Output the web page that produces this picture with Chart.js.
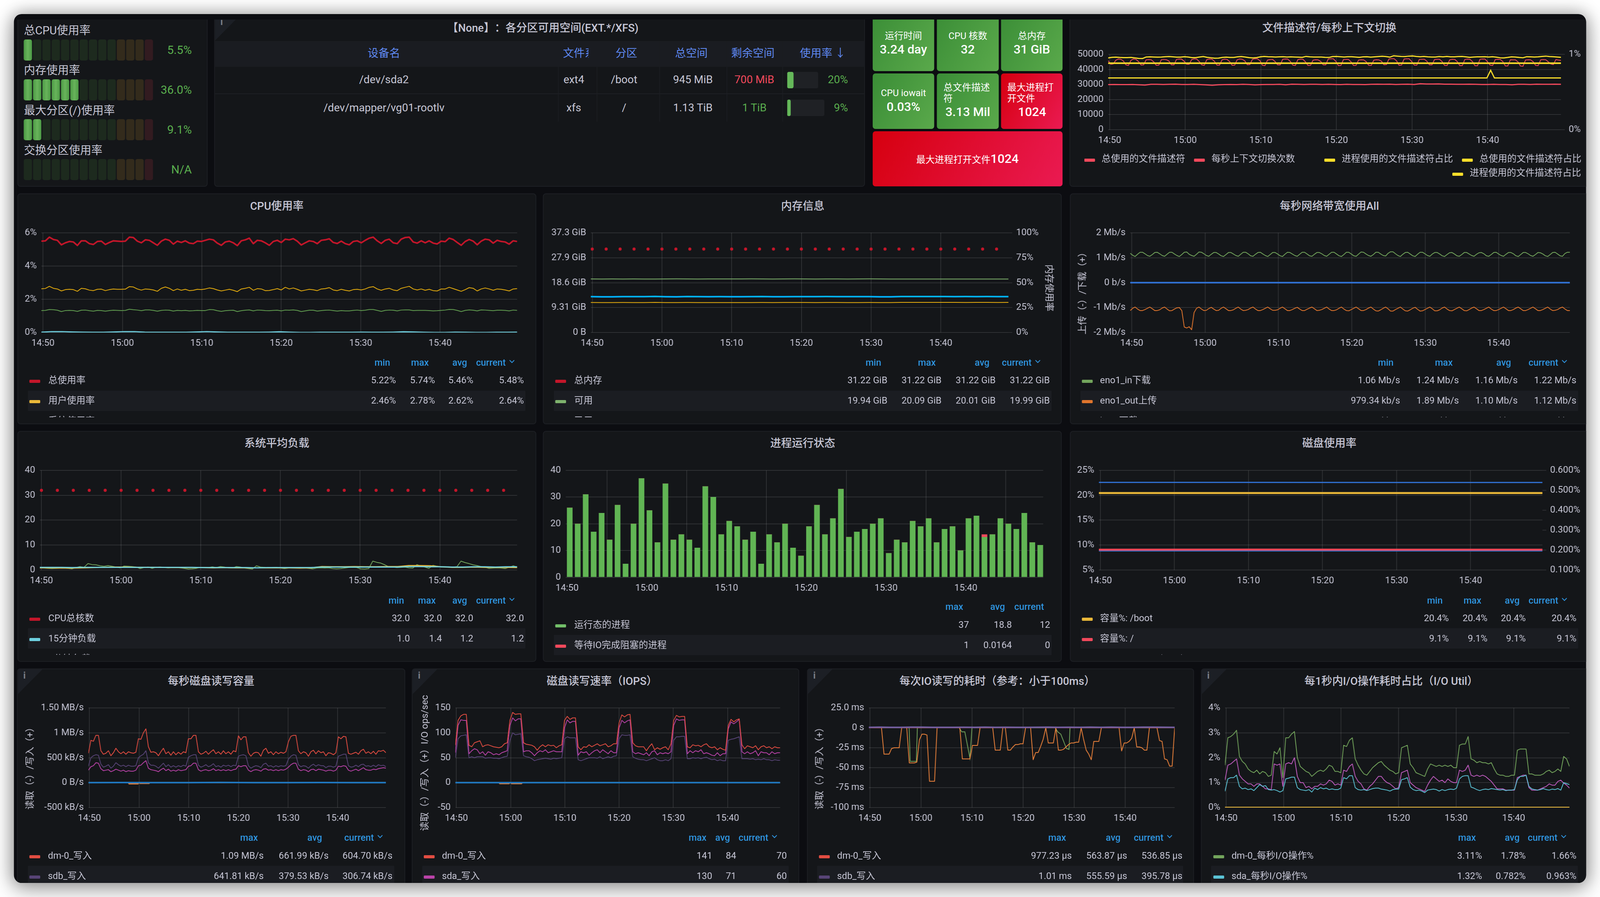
<!DOCTYPE html>
<html><head><meta charset="utf-8">
<script src="https://cdn.jsdelivr.net/npm/chart.js@4"></script>
<style>
html,body{margin:0;padding:0;background:#fff;overflow:hidden;font-family:Roboto,"Noto Sans CJK SC",sans-serif;text-spacing-trim:space-all}
#root{position:absolute;left:0;top:0;width:4138px;height:2296px;transform-origin:0 0;background:#fff;overflow:hidden}
#dash{position:absolute;left:36px;top:36px;width:4066px;height:2224px;background:#0c0d11;border-radius:20px;overflow:hidden;box-shadow:0 0 42px 4px rgba(0,0,0,.33),0 22px 60px rgba(0,0,0,.22)}
#page{position:absolute;left:-36px;top:-36px;width:4138px;height:2296px;clip-path:inset(50px 0 0 0)}
.panel{position:absolute;background:#141619;border:2px solid #1d1f24;border-radius:8px;box-sizing:border-box}
.t{position:absolute;white-space:nowrap;line-height:1;color:#c7c7d6}
canvas{position:absolute}
.tile{position:absolute;border-radius:7px}
.box{position:absolute;overflow:hidden}
</style></head><body><div id="root"><div id="dash"><div id="page"></div></div></div>
<script>
document.getElementById("root").style.transform=`scaleX(${Math.min(1,innerWidth/4138)})`;
/* ---------- shared axis values ---------- */
const xTickValues=[0,10,20,30,40,50];
const xTickLabels=["14:50","15:00","15:10","15:20","15:30","15:40"];
const xMin=-0.2,xMax=59.7;

/* ---------- gauges ---------- */
const gaugeNames=["总CPU使用率","内存使用率","最大分区(/)使用率","交换分区使用率"];
const gaugeValues=[5.5,36.0,9.1,null];
const gaugeTexts=["5.5%","36.0%","9.1%","N/A"];

/* ---------- table ---------- */
const tableHeaders=["设备名","文件系统","分区","总空间","剩余空间","使用率"];
const tableDevices=["/dev/sda2","/dev/mapper/vg01-rootlv"];
const tableFs=["ext4","xfs"];
const tableParts=["/boot","/"];
const tableTotal=["945 MiB","1.13 TiB"];
const tableFree=["700 MiB","1 TiB"];
const tableUsage=[20,9];

/* ---------- file descriptors / context switches (left axis in thousands) ---------- */
const fdYTicks=[0,10,20,30,40,50];
const fdYLabels=["0","10000","20000","30000","40000","50000"];
const fdWiggle=[47.6,48.0,48.1,47.9,47.8,47.8,47.9,47.6,47.3,47.2,48.2,48.3,48.2,48.1,48.2,48.4,48.5,48.3,48.1,48.1,
48.4,48.2,47.8,47.8,48.2,48.5,48.0,47.7,47.4,47.5,47.9,48.1,47.9,47.9,48.3,48.5,48.2,47.8,47.6,47.8,
48.3,48.6,48.4,48.3,48.2,48.3,48.4,48.2,48.3,48.2,48.1,48.0,48.6,48.3,48.2,48.2,48.2,48.0,47.9,48.5,
48.6,48.4,48.2,48.4,48.4,48.2,48.0,48.3,48.4,48.1,48.3,48.5,48.7,48.5,48.1,49.0,48.8,48.6,48.5,48.8,
48.9,48.6,48.4,48.6,48.3,48.2,48.2,48.5,48.3,48.6,48.3,48.3,48.5,48.6,48.3,48.0,48.2,48.3,48.3,48.4,
48.2,48.4,48.1,47.7,47.6,47.9,48.3,48.2,47.9,47.7,48.4,48.3,48.2,48.3,48.6,48.8,48.5,48.4,48.2,48.0];
const fdTotalUsed=[29.9,30.0,29.9,29.9,30.0,29.8,29.6,30.1,30.1,30.0,30.1,30.2,30.0,30.0,30.1,29.9,29.7,29.5,29.8,29.9,
30.0,29.9,30.1,30.0,29.7,29.9,30.0,30.0,30.1,29.8,30.2,30.1,30.0,30.1,30.1,30.0,30.1,30.0,29.9,30.1,
30.0,30.0,29.9,30.1,30.2,30.1,30.2,30.0,30.1,30.2,30.0,30.5,30.3,30.3,30.4,30.2,30.2,30.1,30.1,30.2,
30.1,30.0,30.0,30.1,30.0,30.0,29.8,30.1,30.1,30.0,30.2,30.1,30.1,30.2,30.1];
const ctxSwitches=[45.8,43.4,43.6,46.0,46.9,46.7, 45.6,43.0,42.6,46.0,46.9,46.6, 45.2,42.9,43.0,46.3,46.5,46.4, 45.0,42.7,42.8,46.4,46.6,46.4, 45.6,43.0,43.0,46.6,46.9,46.8, 45.5,43.4,43.4,46.5,47.0,46.8,
45.2,43.0,42.7,46.5,46.9,46.8, 45.4,42.8,42.8,46.3,46.8,46.6, 45.2,42.7,42.8,46.4,46.9,46.7, 45.7,43.1,43.2,46.6,47.1,47.0, 45.8,42.7,42.5,46.2,46.5,46.6, 45.2,43.0,43.0,46.7,46.9,46.8,
45.3,42.8,42.6,46.5,46.8,46.7, 45.0,42.6,42.7,46.1,46.4,46.3, 45.3,43.0,43.0,46.9,47.0,47.0, 45.4,42.5,42.6,46.5,46.6,46.6, 45.0,42.6,42.7,46.2,46.4,46.3, 45.1,42.7,42.6,46.1,46.4,46.3,
45.5,43.1,43.2,46.9,47.1,47.1, 45.7,42.7,42.9,46.9,47.0,47.0, 45.2,42.8,42.8,46.6,46.7,46.7, 45.4,43.0,43.0,46.5,46.7,46.7, 45.2,42.6,42.6,46.3,46.7,46.6, 45.2,42.5,42.5,46.6,46.8,46.7,
45.2,42.4,42.4,46.7,46.9,46.8, 45.0,42.8,42.6,46.5,46.7,46.6, 45.2,42.3,42.3,46.4,46.3,46.3, 45.0,42.2,42.1,46.2,46.4,46.3, 45.1,42.6,42.5,46.4,46.5,46.4, 45.0,43.6,43.2,46.5,46.2,46.0];
const fdPct1=[0.882,0.882,0.882,0.882];
const fdPct2Min=[-0.2,49.9,50.4,50.9,59.7];
const fdPct2=[0.686,0.686,0.788,0.686,0.686];

/* ---------- CPU ---------- */
const cpuTotal=[5.50,5.52,5.74,5.60,5.55,5.28,5.40,5.48,5.45,5.24,5.52,5.52,5.35,5.30,5.48,5.50,5.30,5.42,5.52,5.50,
5.48,5.50,5.74,5.72,5.50,5.40,5.58,5.55,5.40,5.25,5.50,5.62,5.55,5.32,5.50,5.42,5.52,5.38,5.35,5.50,
5.48,5.55,5.62,5.58,5.38,5.25,5.45,5.50,5.40,5.23,5.52,5.58,5.68,5.35,5.55,5.52,5.40,5.25,5.48,5.55,
5.42,5.62,5.58,5.65,5.50,5.27,5.40,5.52,5.48,5.35,5.55,5.58,5.64,5.42,5.36,5.50,5.35,5.28,5.48,5.52,
5.40,5.55,5.68,5.74,5.52,5.36,5.55,5.62,5.40,5.35,5.62,5.72,5.74,5.45,5.38,5.52,5.40,5.52,5.38,5.33,
5.50,5.47,5.68,5.60,5.42,5.25,5.48,5.60,5.50,5.28,5.50,5.62,5.58,5.38,5.55,5.48,5.45,5.32,5.52,5.48];
const cpuUser=[2.63,2.65,2.78,2.66,2.62,2.50,2.58,2.60,2.58,2.48,2.66,2.63,2.55,2.52,2.60,2.61,2.52,2.58,2.62,2.60,
2.60,2.61,2.76,2.74,2.62,2.55,2.62,2.60,2.56,2.48,2.66,2.74,2.66,2.52,2.62,2.54,2.60,2.52,2.54,2.60,
2.58,2.62,2.68,2.64,2.56,2.50,2.55,2.60,2.54,2.46,2.62,2.66,2.72,2.54,2.64,2.62,2.52,2.53,2.58,2.64,
2.56,2.72,2.62,2.68,2.60,2.50,2.55,2.60,2.57,2.52,2.62,2.64,2.70,2.56,2.52,2.60,2.54,2.50,2.58,2.60,
2.56,2.62,2.72,2.76,2.62,2.54,2.62,2.66,2.56,2.52,2.66,2.72,2.78,2.62,2.56,2.62,2.54,2.60,2.52,2.50,
2.62,2.62,2.72,2.64,2.56,2.48,2.58,2.70,2.66,2.50,2.62,2.68,2.62,2.54,2.62,2.60,2.56,2.50,2.62,2.64];
const cpuSys=[1.32,1.33,1.38,1.37,1.34,1.26,1.32,1.33,1.32,1.27,1.34,1.35,1.31,1.28,1.33,1.32,1.28,1.32,1.34,1.33,
1.32,1.33,1.40,1.37,1.35,1.31,1.36,1.36,1.33,1.28,1.33,1.35,1.34,1.29,1.33,1.31,1.33,1.30,1.31,1.33,
1.32,1.32,1.38,1.37,1.31,1.27,1.31,1.33,1.34,1.26,1.31,1.34,1.36,1.30,1.35,1.34,1.32,1.31,1.33,1.34,
1.30,1.35,1.34,1.36,1.33,1.26,1.30,1.34,1.34,1.29,1.32,1.34,1.35,1.32,1.29,1.32,1.30,1.30,1.33,1.35,
1.32,1.34,1.38,1.38,1.33,1.27,1.33,1.35,1.34,1.30,1.35,1.36,1.36,1.32,1.33,1.33,1.33,1.32,1.30,1.31,
1.33,1.35,1.39,1.38,1.33,1.26,1.33,1.36,1.34,1.30,1.36,1.35,1.33,1.31,1.34,1.34,1.33,1.30,1.35,1.33];
const cpuIowait=[0.02,0.05,0.05,0.03,0.02,0.01,0.01,0.03,0.05,0.05,0.02,0.01,0.01,0.01,0.01,0.03,0.05,0.03,0.01,0.01,0.01,0.01,0.02,0.04,0.02,0.00,0.00,0.01,0.01,0.01,0.01,0.02,0.01,0.01,0.02,0.04,0.03,0.01,0.00,0.00,0.02,0.01,0.00,0.00,0.01,0.01,0.02];

/* ---------- memory ---------- */
const memYTicks=[0,9.31,18.6,27.9,37.3];
const memYLabels=["0 B","9.31 GiB","18.6 GiB","27.9 GiB","37.3 GiB"];
const memPctTicks=[0,25,50,75,100];
const memPctLabels=["0%","25%","50%","75%","100%"];
const memTotal=[31.22,31.22,31.22,31.22,31.22,31.22,31.22,31.22,31.22,31.22,31.22,31.22,31.22,31.22,31.22,31.22,31.22,31.22,31.22,31.22,31.22,31.22,31.22,31.22,31.22,31.22,31.22,31.22,31.22,31.22];
const memAvail=[20.03,20.02,20.03,20.02,20.04,20.02,19.99,20.03,20.07,20.04,20.00,20.03,20.04,20.04,20.05,20.07,20.03,20.02,20.05,20.06,20.03,20.01,20.04,20.04,20.02,20.05,20.07,20.05,20.02,20.00,20.02,20.00,20.01,19.99,20.00,20.01,20.02,19.99,20.00,19.99];
const memUsedPct=[36.0,35.8,35.8,36.0,36.0,36.0,36.2,35.9,35.8,36.1,36.0,35.9,36.0,35.9,35.9,36.0,36.1,35.9,35.9,36.0,36.0,36.0,36.1,36.0,36.0,36.0,36.0,35.8,35.8,36.1,36.1,36.1,36.1,36.1,36.0,36.1,36.0,36.1,36.0,36.0];
const memUsed=[11.24,11.20,11.20,11.22,11.20,11.20,11.26,11.18,11.20,11.24,11.20,11.18,11.18,11.20,11.18,11.20,11.24,11.20,11.21,11.22,11.24,11.20,11.22,11.22,11.20,11.20,11.24,11.20,11.18,11.27,11.26,11.25,11.26,11.25,11.26,11.24,11.26,11.28,11.24,11.26];

/* ---------- network ---------- */
const netYTicks=[-2,-1,0,1,2];
const netYLabels=["-2 Mb/s","-1 Mb/s","0 b/s","1 Mb/s","2 Mb/s"];
const netIn=[1.18,1.10,1.05,1.14,1.22,1.22, 1.16,1.09,1.06,1.13,1.21,1.22, 1.16,1.09,1.06,1.14,1.22,1.22, 1.15,1.09,1.05,1.13,1.22,1.23, 1.14,1.09,1.06,1.14,1.23,1.22,
1.16,1.09,1.06,1.14,1.21,1.21, 1.15,1.08,1.05,1.13,1.21,1.21, 1.15,1.09,1.06,1.14,1.22,1.22, 1.16,1.08,1.06,1.14,1.21,1.22, 1.15,1.09,1.05,1.13,1.21,1.21,
1.15,1.08,1.05,1.14,1.22,1.21, 1.15,1.09,1.06,1.14,1.22,1.22, 1.15,1.08,1.06,1.14,1.21,1.21, 1.16,1.09,1.06,1.14,1.22,1.22, 1.15,1.08,1.05,1.13,1.22,1.22,
1.15,1.08,1.06,1.15,1.23,1.22, 1.15,1.09,1.06,1.13,1.22,1.22, 1.15,1.09,1.07,1.18,1.24,1.24, 1.16,1.09,1.05,1.14,1.21,1.22, 1.15,1.08,1.05,1.14,1.22,1.22,
1.16,1.09,1.06,1.15,1.21,1.21, 1.15,1.08,1.05,1.13,1.20,1.21, 1.15,1.08,1.06,1.13,1.21,1.21, 1.15,1.09,1.06,1.14,1.20,1.21, 1.16,1.08,1.06,1.13,1.21,1.22,
1.15,1.09,1.06,1.14,1.21,1.21, 1.16,1.08,1.05,1.13,1.21,1.21, 1.16,1.09,1.06,1.13,1.21,1.20, 1.15,1.08,1.05,1.13,1.21,1.22, 1.15,1.08,1.06,1.17,1.22,1.22];
const netOut=[-1.12,-1.03,-0.98,-1.06,-1.12,-1.12, -1.08,-1.03,-0.98,-1.05,-1.12,-1.12, -1.09,-1.02,-0.98,-1.06,-1.13,-1.12, -1.06,-1.01,-1.00,-1.12,-1.78,-1.82, -1.77,-1.89,-1.2,-1.03,-0.98,-1.06,
-1.12,-1.11,-1.04,-0.99,-1.06,-1.12, -1.11,-1.03,-0.98,-1.05,-1.12,-1.12, -1.09,-1.03,-0.98,-1.06,-1.12,-1.11, -1.08,-1.02,-0.98,-1.06,-1.12,-1.12, -1.08,-1.03,-0.98,-1.05,-1.11,-1.11,
-1.09,-1.03,-0.98,-1.05,-1.12,-1.12, -1.08,-1.03,-0.99,-1.06,-1.12,-1.12, -1.07,-1.02,-0.98,-1.05,-1.12,-1.11, -1.08,-1.03,-0.98,-1.06,-1.12,-1.12, -1.09,-1.03,-0.98,-1.06,-1.12,-1.13,
-1.08,-1.03,-0.98,-1.05,-1.12,-1.12, -1.08,-1.02,-0.98,-1.06,-1.13,-1.14, -1.09,-1.03,-0.98,-1.05,-1.14,-1.14, -1.08,-1.03,-0.98,-1.06,-1.13,-1.14, -1.09,-1.03,-0.99,-1.07,-1.14,-1.13,
-1.08,-1.03,-0.98,-1.05,-1.13,-1.13, -1.09,-1.02,-0.98,-1.06,-1.12,-1.13, -1.08,-1.03,-0.98,-1.05,-1.12,-1.13, -1.08,-1.02,-0.98,-1.05,-1.12,-1.12, -1.08,-1.03,-0.98,-1.06,-1.12,-1.12,
-1.08,-1.03,-0.98,-1.05,-1.12,-1.12, -1.08,-1.02,-0.98,-1.05,-1.12,-1.12, -1.08,-1.03,-0.98,-1.05,-1.12,-1.12, -1.08,-1.03,-0.98,-1.06,-1.12,-1.11, -1.08,-1.02,-0.98,-1.06,-1.12,-1.12];
const netOther=[0,0,0];

/* ---------- load ---------- */
const loadYTicks=[0,10,20,30,40];
const loadCores=[32,32,32,32,32,32,32,32,32,32,32,32,32,32,32,32,32,32,32,32,32,32,32,32,32,32,32,32,32,32];
const load1=[0.9,0.7,0.6,0.5,0.6,0.7,0.8,0.6,0.4,0.9,1.3,1.0,2.5,2.1,2.0,1.6,1.4,1.7,1.4,1.1,
0.8,1.5,1.4,1.3,1.1,0.5,0.9,1.1,0.6,1.0,1.1,0.9,0.8,0.9,1.0,0.8,0.6,0.3,0.4,0.6,
1.0,1.0,0.9,1.2,0.9,1.3,1.1,0.8,0.7,1.3,1.1,0.7,0.5,0.3,1.6,1.1,1.0,0.7,0.9,1.0,
0.7,0.5,0.7,0.7,0.8,0.9,0.8,0.6,0.4,0.7,0.8,0.7,0.8,0.5,0.4,0.5,0.7,0.9,1.0,0.9,
0.4,0.3,0.5,3.5,3.0,2.7,2.0,1.2,1.1,0.9,1.0,1.1,0.8,0.7,2.1,1.5,1.1,0.6,1.8,1.4,
1.1,1.2,1.2,1.1,1.3,3.5,2.9,2.5,2.0,1.7,1.3,1.0,0.6,0.7,0.8,0.7,0.5,1.0,1.6,1.1];
const load5=[0.8,0.8,0.7,0.7,0.8,0.9,1.0,1.1,1.1,1.0,1.0,1.0,0.9,0.9,0.9,0.9,0.8,0.9,0.8,0.8,0.8,0.8,0.8,0.8,0.7,0.8,1.3,1.2,1.2,1.3,1.2,1.2,1.3,1.3,1.7,1.7,1.6,1.2,1.0,1.0,1.1,1.0,1.0,1.0,0.9];
const load15=[1.0,1.0,1.0,0.9,1.0,1.0,1.0,1.0,1.0,1.0,1.0,1.0,1.0,1.0,1.0,0.9,0.9,0.9,0.9,0.9,0.8,0.9,0.9,0.9,0.9,0.9,1.1,1.1,1.1,1.1,1.1,1.1,1.1,1.1,1.3,1.3,1.2,1.2,1.1,1.1,1.2,1.2,1.1,1.2,1.2];

/* ---------- processes ---------- */
const procRunning=[26,20,31,17,24,14,27,5,20,37,25,13,35,14,16,14,11,34,30,16,21,19,14,17,5,16,13,20,11,8,19,27,16,22,33,15,17,18,20,22,9,14,13,21,19,22,13,18,19,10,22,23,15,16,22,20,18,24,13,12];
const procBlocked=[0,0,0,0,0,0,0,0,0,0,0,0,0,0,0,0,0,0,0,0,0,0,0,0,0,0,0,0,0,0,0,0,0,0,0,0,0,0,0,0,0,0,0,0,0,0,0,0,0,0,0,0,1,0,0,0,0,0,0,0];

/* ---------- disk usage ---------- */
const diskYTicks=[5,10,15,20,25];
const diskYLabels=["5%","10%","15%","20%","25%"];
const diskY2Ticks=[0.1,0.2,0.3,0.4,0.5,0.6];
const diskY2Labels=["0.100%","0.200%","0.300%","0.400%","0.500%","0.600%"];
const diskBoot=[20.44,20.44,20.44,20.44];
const diskRoot=[9.05,9.06,9.05,9.05];
const inodeBoot=[0.5395,0.5395,0.5393,0.5393];
const inodeRoot=[0.1955,0.1955,0.1955,0.1955];

/* ---------- disk throughput (kB/s) ---------- */
const ioRateYTicks=[-500,0,500,1000,1500];
const ioRateYLabels=["-500 kB/s","0 B/s","500 kB/s","1 MB/s","1.50 MB/s"];
const rateDm0=[590,850,830,950,950,640,570,590,640,540,600,690,620,580,620,570,620,600,590,610,
880,870,1000,1080,720,610,620,600,540,620,690,580,620,550,620,560,610,570,620,600,
880,880,950,950,620,570,590,630,570,620,660,580,620,570,640,580,620,570,640,620,
940,860,920,920,600,530,590,610,600,530,650,690,590,620,560,620,580,610,590,620,
820,930,950,950,640,580,620,600,530,620,650,580,640,600,620,540,600,590,560,600,
920,880,930,920,590,570,590,610,570,640,670,590,620,580,630,570,640,630,650,600];
const rateSdb=[330,500,540,560,550,370,310,330,360,290,330,400,360,330,350,320,350,330,330,340,
500,540,570,640,400,350,350,330,290,340,390,320,360,310,340,310,340,320,350,330,
510,540,560,560,350,310,330,360,320,340,380,320,340,310,350,330,350,320,350,340,
530,550,560,540,340,290,320,340,330,300,370,390,330,340,310,340,320,340,330,340,
470,530,560,550,360,320,340,330,290,340,370,330,360,340,340,300,330,330,310,330,
530,550,570,570,340,310,320,350,320,360,370,330,340,320,350,320,360,340,350,320];
const rateSda=[250,320,340,400,390,280,240,250,260,220,240,270,250,230,250,220,240,230,230,250,
340,350,400,440,290,260,250,240,220,260,290,240,270,230,250,230,260,240,250,260,
330,340,390,390,260,230,250,260,240,250,280,240,260,240,260,240,260,240,260,270,
340,320,340,340,250,220,250,260,250,230,270,280,250,260,240,260,240,260,250,270,
310,360,390,390,270,240,260,250,220,260,270,240,270,260,250,230,250,250,230,250,
330,320,340,330,250,230,250,270,240,270,300,260,250,250,270,260,280,290,300,290];
const rateReadMin=[-0.2,7.8,8.0,9.8,10.0,10.2,12.0,12.2,59.7];
const rateRead=[0,0,-24,-24,0,-16,-16,0,0];
const rateZero=[0,2,0,0,3,0,0,2,0,0];

/* ---------- IOPS ---------- */
const iopsYTicks=[-50,0,50,100,150];
const iopsYLabels=["-50","0","50","100","150"];
const iopsDm0=[75,125,134,137,137,75,72,80,82,84,72,75,76,74,72,71,70,72,78,80,
125,141,137,138,138,80,77,76,75,72,65,72,76,72,76,74,75,70,74,76,
125,133,127,130,130,72,66,72,71,76,72,75,78,74,76,78,72,74,78,78,
120,136,132,136,137,80,74,72,72,72,64,72,78,66,70,67,70,72,66,78,
125,135,132,133,133,72,70,76,74,75,72,76,78,72,70,72,66,70,67,65,
115,127,122,126,128,76,68,74,72,70,74,66,72,74,70,72,68,72,70,70];
const iopsSda=[60,115,126,125,125,58,64,68,66,58,62,55,62,60,56,58,56,60,62,64,
115,130,124,128,128,62,64,64,60,54,60,64,62,66,60,62,64,62,62,62,
110,126,120,123,123,55,62,60,62,55,60,64,66,60,66,62,58,64,60,60,
110,125,120,124,126,62,58,60,58,56,60,54,62,64,56,60,58,60,58,62,
115,128,125,126,126,58,64,60,64,62,66,58,60,58,55,54,60,54,58,58,
108,122,118,122,127,62,58,62,58,60,64,54,62,60,60,56,62,58,60,60];
const iopsSdb=[50,88,94,95,96,50,52,50,52,52,52,49,50,50,49,49,48,50,52,53,
85,100,96,97,98,54,52,51,48,44,46,47,48,49,48,47,49,48,49,50,
88,92,90,90,90,46,44,46,48,50,50,50,49,52,48,50,52,50,53,54,
88,96,95,95,96,52,49,47,46,46,44,46,48,50,46,44,44,46,44,48,
85,92,92,93,93,48,48,50,49,50,48,50,51,48,46,47,44,46,44,44,
85,87,88,90,92,48,48,48,47,48,46,47,46,48,46,46,44,46,45,45];
const iopsReadMin=[-0.2,7.8,8.0,9.7,9.9,10.2,12.0,12.2,59.7];
const iopsRead=[0,0,-2,-2,0,-2,-2,0,0];
const iopsZero=[0,0,0];

/* ---------- IO latency (ms) ---------- */
const latYTicks=[-100,-75,-50,-25,0,25];
const latYLabels=["-100 ms","-75 ms","-50 ms","-25 ms","0 s","25.0 ms"];
const latRead=[0,0,0,0,0,0,-33,-33,-33,-26,-25,-25,-25,0,0,0,-44,-44,-44,-43,-15,-8,-8,-9,-67,-67,-67,0,0,0,0,0,0,0,0,0,0,-39,-39,-39,-39,-22,-22,-22,0,0,0,0,0,0,-28,-28,-28,0,0,-28,-28,-24,-21,-21,-20,-20,0,0,0,-40,-31,-31,-23,-14,0,-19,-19,-19,0,-28,-28,-27,-24,-21,-19,-19,-18,-18,0,-15,-28,-33,-40,-17,-17,-17,0,0,0,0,0,0,0,0,-29,-19,-19,-17,-13,0,-24,-24,-25,-28,-28,0,0,0,0,-16,-17,-39,-40,-48,-48,0];
const latRead2Min=[-0.2,7.7,7.9,9.1,9.3,17.5,18.0,18.6,19.6,20.0,36.3,36.8,37.4,38.5,39.0,39.2,59.7];
const latRead2=[0,0,-42,-42,0,0,-5,-5,-38,0,0,-5,-8,-26,-27,0,0];
const latWrite=[0.6,0.9,0.6,0.6,0.8,0.9,0.6,0.6,0.6,0.7,0.6,0.8,0.6,0.7,0.6,0.6,0.7,0.8,0.6,0.7,0.6,0.9,0.6,0.8,0.6,0.6,0.8,0.9,0.7,0.6];
const latWrite2=[0.4,0.5,0.4,0.4,0.5,0.4,0.6,0.4,0.4,0.4,0.5,0.4];

/* ---------- IO util ---------- */
const utilYTicks=[0,1,2,3,4];
const utilYLabels=["0%","1%","2%","3%","4%"];
const utilDm0=[1.70,2.80,2.85,2.95,3.10,2.05,1.85,1.75,1.55,1.45,1.40,1.50,1.35,1.45,1.40,1.25,1.30,2.25,2.15,2.40,
1.20,2.80,2.80,2.95,3.05,2.00,1.65,1.55,1.45,1.40,1.25,1.35,1.45,1.50,1.45,1.55,1.70,1.65,1.45,1.45,
1.40,2.50,2.45,2.70,2.80,1.95,1.70,1.50,1.35,1.30,1.45,1.60,1.70,1.80,1.85,1.70,1.60,1.50,1.45,1.35,
1.40,2.40,2.45,2.50,1.75,1.60,1.40,1.35,1.30,1.25,1.55,1.75,1.70,1.65,1.70,1.65,1.70,1.65,1.70,1.60,
1.60,2.50,2.55,2.55,2.85,1.95,1.90,1.80,1.85,1.80,1.80,1.75,1.80,1.55,1.35,1.30,1.30,1.25,1.25,1.30,
1.30,2.30,2.35,2.35,2.35,1.35,1.35,1.30,1.30,1.30,1.35,1.45,1.50,1.40,1.45,1.55,1.45,2.05,1.95,1.65];
const utilSda=[0.65,1.15,1.20,1.20,1.30,0.85,0.75,0.78,0.72,0.75,0.68,0.80,0.92,0.85,0.88,0.72,0.70,0.72,0.68,0.62,
0.68,1.15,1.18,1.22,1.22,0.80,0.72,0.70,0.68,0.72,0.62,0.78,0.72,0.80,0.75,0.78,0.72,0.75,0.72,0.72,
0.78,1.20,1.15,1.28,1.28,0.80,0.72,0.70,0.72,0.68,0.72,0.76,0.78,0.78,0.74,0.72,0.70,0.66,0.72,0.74,
0.74,1.12,1.15,1.20,0.82,0.72,0.68,0.70,0.66,0.60,0.70,0.72,0.74,0.72,0.66,0.72,0.68,0.72,0.74,0.72,
0.78,1.15,1.25,1.28,1.28,0.82,0.78,0.72,0.68,0.72,0.74,0.72,0.76,0.74,0.72,0.70,0.72,0.68,0.70,0.70,
0.72,1.12,1.25,1.25,1.30,0.85,0.75,0.72,0.70,0.72,0.76,0.72,0.70,0.74,0.72,0.76,0.70,1.00,0.96,0.92];
const utilSdb=[1.10,1.70,1.75,1.85,1.95,1.30,1.15,1.05,0.95,0.95,0.85,0.95,0.95,0.85,0.75,0.75,0.72,1.75,1.70,1.75,
0.85,1.75,1.80,1.75,2.00,1.25,1.00,1.00,0.80,0.85,0.75,0.85,0.85,0.95,0.90,0.95,1.10,1.05,0.90,0.95,
0.90,1.50,1.45,1.65,1.75,1.25,1.05,0.95,0.75,0.70,0.85,0.95,1.10,1.25,1.25,1.10,1.00,0.95,0.85,0.75,
0.80,1.40,1.45,1.50,1.00,0.90,0.80,0.75,0.70,0.65,0.90,1.10,1.25,1.15,1.05,1.10,1.00,1.15,1.05,1.00,
1.00,1.50,1.45,1.50,1.70,1.30,1.25,1.30,1.25,1.30,1.25,1.15,1.05,0.90,0.75,0.75,0.75,0.70,0.70,0.70,
0.70,1.20,1.25,1.30,1.30,0.80,0.70,0.70,0.70,0.75,0.80,0.85,0.95,0.90,0.90,1.05,1.10,0.98,0.90,0.78];
const utilOther=[0,0,0];

/* ---------- colours ---------- */
const TXT="#c7c7d6",GRID="rgba(255,255,255,.115)",HDR="#2f96e2";
const C={red:"#C4162A",yel:"#E5AC0E",grn:"#629E51",cyan:"#6ED0E0",red2:"#F2495C",fy:"#FADE2A",blue:"#00B4FF",
nb:"#1F78C1",or:"#E0752D",dr:"#E24D42",pu:"#584477",mg:"#BA43A9",db:"#3274D9",bars:"#61B554"};

/* ---------- helpers ---------- */
const page=document.getElementById("page");
Chart.defaults.font.family='Roboto,"Noto Sans CJK SC",sans-serif';
Chart.defaults.font.size=24;
Chart.defaults.color=TXT;
Chart.defaults.animation=false;
Chart.defaults.devicePixelRatio=1;
Chart.defaults.responsive=false;
Chart.defaults.plugins.legend.display=false;
Chart.defaults.plugins.tooltip.enabled=false;

function el(tag,css,parent){const e=document.createElement(tag);e.style.cssText="position:absolute;"+css;(parent||page).appendChild(e);return e;}
function txt(x,y,s,o={},parent){
  const tx=o.align==="right"?"-100%":o.align==="center"?"-50%":"0";
  const e=el("div",`left:${x}px;top:${y}px;transform:translate(${tx},-50%);font-size:${o.size||24}px;font-weight:${o.weight||400};color:${o.color||TXT}`,parent);
  e.className="t";e.textContent=s;return e;
}
function panel(l,t,r,b,title,tx,ty,info){
  el("div",`left:${l}px;top:${t}px;width:${r-l}px;height:${b-t}px`).className="panel";
  if(info){
    el("div",`left:${l+2}px;top:${t+2}px;width:${info}px;height:${info}px;background:#1c1f25;clip-path:polygon(0 0,100% 0,0 100%)`);
    txt(l+16,t+18,"i",{size:24,weight:700,color:"#7b7f88"});
  }
  if(title)txt(tx,ty,title,{align:"center",size:28,weight:500});
}
function line(vals,color,w,axis){
  return {data:vals.map((y,i)=>({x:xMin+i*(xMax-xMin)/(vals.length-1),y})),borderColor:color,borderWidth:w,pointRadius:0,tension:0,yAxisID:axis||"y",fill:false,borderJoinStyle:"round"};
}
function pairs(xs,vals,color,w,axis){
  return {data:vals.map((y,i)=>({x:xs[i],y})),borderColor:color,borderWidth:w,pointRadius:0,tension:0,yAxisID:axis||"y",fill:false};
}
function dots(vals,color,axis){
  return {data:vals.map((y,i)=>({x:i*2,y})),showLine:false,pointRadius:4,pointBackgroundColor:color,pointBorderWidth:0,yAxisID:axis||"y"};
}
function yScale(pos,min,max,ticks,labels,w,extra){
  const right=pos==="right";
  return Object.assign({position:pos,min,max,
    afterBuildTicks:a=>{a.ticks=ticks.map(value=>({value}));},
    afterFit:s=>{s.width=w;},
    ticks:{callback:(v,i)=>labels[i],padding:right?10:12,autoSkip:false,color:TXT,font:{size:24}},
    grid:right?{drawOnChartArea:false,color:"#2c2d31",lineWidth:2,drawTicks:true,tickLength:10}:{color:GRID,lineWidth:2,drawTicks:false},
    border:{display:false}},extra||{});
}
function xScale(h,extra){
  return Object.assign({type:"linear",min:xMin,max:xMax,
    afterBuildTicks:a=>{a.ticks=xTickValues.map(value=>({value}));},
    afterFit:s=>{s.height=h;},
    ticks:{callback:(v,i)=>xTickLabels[i],padding:14,maxRotation:0,autoSkip:false,color:TXT,font:{size:24}},
    grid:{color:GRID,lineWidth:2,drawTicks:false},border:{display:false}},extra||{});
}
function chart(rect,plot,datasets,y,y2,type,xExtra){
  const c=el("canvas",`left:${rect[0]}px;top:${rect[1]}px`);
  c.width=rect[2]-rect[0];c.height=rect[3]-rect[1];
  const scales={x:xScale(rect[3]-plot[3],xExtra),y:y(plot[0]-rect[0])};
  if(y2)scales.y2=y2(rect[2]-plot[2]);
  /* Chart.js paints the first dataset last: reverse so later lines sit on top */
  const ds=type==="bar"?datasets:datasets.slice().reverse();
  new Chart(c,{type:type||"line",data:{datasets:ds},options:{parsing:true,scales,
    layout:{padding:{top:plot[1]-rect[1],right:y2?0:rect[2]-plot[2],left:0,bottom:0}}}});
}
function rotated(x,y,s,dir){
  const e=el("div",`left:${x}px;top:${y}px;transform:translate(-50%,-50%) rotate(${dir}deg);font-size:24px;color:${TXT}`);
  e.className="t";e.textContent=s;
}
function legend(o){
  const box=el("div",`left:${o.l}px;top:${o.hy-20}px;width:${o.r-o.l}px;height:${o.clip-o.hy+20}px`);
  box.className="box";
  const X=x=>x-o.l,Y=y=>y-o.hy+20;
  el("div",`left:0;top:${Y(o.band[0])}px;width:100%;height:${o.band[1]-o.band[0]}px;background:#1b1d22;border-radius:2px`,box);
  o.cols.forEach((c,i)=>{
    txt(X(c[1]),Y(o.hy),c[0],{align:"right",color:HDR,weight:500},box);
    if(c[0]==="current"&&o.chev!==false){
      const s=document.createElementNS("http://www.w3.org/2000/svg","svg");
      s.setAttribute("width","14");s.setAttribute("height","9");
      s.style.cssText=`position:absolute;left:${X(c[1])+9}px;top:${Y(o.hy)-7}px`;
      s.innerHTML=`<path d="M1 1 L7 7 L13 1" fill="none" stroke="${HDR}" stroke-width="2"/>`;
      box.appendChild(s);
    }
  });
  o.rows.forEach((r,i)=>{
    const y=o.ry[i];
    el("div",`left:${X(o.sw)}px;top:${Y(y)-1}px;width:28px;height:8px;background:${r[0]};border-radius:2px`,box);
    txt(X(o.lx),Y(y),r[1],{},box);
    r[2].forEach((v,j)=>txt(X(o.cols[j][2]),Y(y),v,{align:"right"},box));
  });
}
const GREEN="linear-gradient(120deg,#3a8d36,#5aa94b)",RED="linear-gradient(120deg,#d6000f,#ea1a52)";
function tile(l,t,r,b,bg){el("div",`left:${l}px;top:${t}px;width:${r-l}px;height:${b-t}px;background:${bg}`).classList.add("tile");}

/* ---------- row 1: gauges ---------- */
panel(45,20,537,478);
const gaugeY=[101,203,305,407],gaugeLabelY=[78,180,283,385];
gaugeNames.forEach((n,k)=>{
  txt(62,gaugeLabelY[k],n,{size:29});
  txt(496,gaugeY[k]+27,gaugeTexts[k],{align:"right",size:30,color:"#5aae4e"});
  const c=el("canvas",`left:60px;top:${gaugeY[k]}px`);c.width=337;c.height=54;
  const slots=[0,1,2,3,4,5,6,7,8,9,10,11,12,13];
  const lit=i=>gaugeValues[k]!==null&&i<Math.ceil(gaugeValues[k]/(100/14));
  new Chart(c,{type:"bar",data:{labels:slots,datasets:[{data:slots.map(()=>1),barPercentage:0.89,categoryPercentage:1,borderRadius:5,borderSkipped:false,
    backgroundColor:ctx=>{
      const i=ctx.dataIndex;
      if(!lit(i))return i<10?"#1d2a1e":i<13?"#332b1c":"#321b20";
      const p=(i+.5)*337/14,g=ctx.chart.ctx.createLinearGradient(p-11,0,p+11,0);
      g.addColorStop(0,"#4b9a44");g.addColorStop(.5,"#69b45c");g.addColorStop(1,"#4b9a44");return g;}}]},
    options:{scales:{x:{display:false},y:{display:false,min:0,max:1}},layout:{padding:0}}});
});

/* ---------- row 1: table ---------- */
panel(554,38,2237,478,"【None】：各分区可用空间(EXT.*/XFS)",1404,72,64);
el("div","left:556px;top:105px;width:1679px;height:66px;background:#1a1c21");
const colX=[1443,1543,1705,1879,2023];
colX.forEach(x=>el("div",`left:${x}px;top:105px;width:2px;height:206px;background:#1b1d21`));
el("div","left:556px;top:239px;width:1679px;height:2px;background:#1d1f24");
const BLUE="#5f89f2";
txt(993,137,tableHeaders[0],{align:"center",size:28,color:BLUE});
const fsClip=el("div","left:1456px;top:118px;width:66px;height:40px");fsClip.className="box";
txt(0,19,tableHeaders[1],{size:28,color:BLUE},fsClip);
txt(1620,137,tableHeaders[2],{align:"center",size:28,color:BLUE});
txt(1788,137,tableHeaders[3],{align:"center",size:28,color:BLUE});
txt(1947,137,tableHeaders[4],{align:"center",size:28,color:BLUE});
txt(2128,137,tableHeaders[5]+" ↓",{align:"center",size:28,color:BLUE});
const rowY=[204,276],trackW=[80,96],trackY=[184,255],freeC=["#F2495C","#5aae4e"];
tableDevices.forEach((d,i)=>{
  const y=rowY[i];
  txt(993,y,d,{align:"center",size:28});
  txt(1484,y,tableFs[i],{align:"center",size:28});
  txt(1614,y,tableParts[i],{align:"center",size:28});
  txt(1792,y,tableTotal[i],{align:"center",size:28});
  txt(1951,y,tableFree[i],{align:"center",size:28,color:freeC[i]});
  txt(2193,y,tableUsage[i]+"%",{align:"right",size:28,color:"#5aae4e"});
  const c=el("canvas",`left:2036px;top:${trackY[i]}px`);c.width=trackW[i];c.height=42;
  new Chart(c,{type:"bar",data:{labels:["u"],datasets:[
    {data:[tableUsage[i]],backgroundColor:"#65b85a",barPercentage:1,categoryPercentage:1,borderRadius:5,borderSkipped:false,grouped:false,order:1},
    {data:[100],backgroundColor:"#1f2125",barPercentage:1,categoryPercentage:1,borderRadius:5,borderSkipped:false,grouped:false,order:2}]},
    options:{indexAxis:"y",scales:{x:{display:false,min:0,max:100},y:{display:false}},layout:{padding:0}}});
});

/* ---------- row 1: stat tiles ---------- */
const tiles=[[2257,20,2416,182,"运行时间","3.24 day"],[2423,20,2583,182,"CPU 核数","32"],[2589,20,2748,182,"总内存","31 GiB"],[2257,188,2416,330,"CPU iowait","0.03%"]];
tiles.forEach(t=>{
  tile(t[0],t[1],t[2],t[3],GREEN);
  const cx=(t[0]+t[2])/2,h=t[1]===20;
  txt(cx,h?92:238,t[4],{align:"center",size:24,color:"#fff"});
  txt(cx,h?126:273,t[5],{align:"center",size:32,weight:500,color:"#fff"});
});
tile(2423,188,2583,330,GREEN);
txt(2440,224,"总文件描述",{size:24,color:"#fff"});txt(2440,252,"符",{size:24,color:"#fff"});
txt(2503,286,"3.13 Mil",{align:"center",size:32,weight:500,color:"#fff"});
tile(2589,188,2748,330,RED);
txt(2605,224,"最大进程打",{size:24,color:"#fff"});txt(2605,252,"开文件",{size:24,color:"#fff"});
txt(2669,286,"1024",{align:"center",size:32,weight:500,color:"#fff"});
tile(2257,336,2748,477,RED);
const big=el("div","left:2502px;top:406px;transform:translate(-50%,-50%);color:#fff;font-size:24px");big.className="t";
big.innerHTML='<span style="color:#fff">最大进程打开文件</span><span style="font-size:32px;font-weight:500;color:#fff">1024</span>';

/* ---------- row 1: fd chart ---------- */
panel(2766,20,4120,478,"文件描述符/每秒上下文切换",3438,72);
chart([2766,50,4102,478],[2866,139,4037,332],[
  line(fdTotalUsed,C.red2,3),line(ctxSwitches,C.red2,2),
  line(fdPct1,C.fy,4,"y2"),pairs(fdPct2Min,fdPct2,C.fy,3,"y2"),
  line(fdWiggle,C.fy,3)
],w=>yScale("left",0,50,fdYTicks,fdYLabels,w),w=>yScale("right",0,1,[0,1],["0%","1%"],w));
[[2804,3088,3425,3781],[3756]].forEach((xs,r)=>xs.forEach((x,i)=>{
  const y=r?442:406;
  el("div",`left:${x}px;top:${y}px;width:28px;height:8px;background:${(r===0&&i<2)?C.red2:C.fy};border-radius:2px`);
  txt(x+45,y,(r?["进程使用的文件描述符占比"]:["总使用的文件描述符","每秒上下文切换次数","进程使用的文件描述符占比","总使用的文件描述符占比"])[i]);
}));

/* ---------- row 2 ---------- */
panel(45,495,1387,1086,"CPU使用率",716,528);
chart([45,495,1387,1086],[107,596,1337.5,851],[
  line(cpuIowait,C.cyan,3),line(cpuSys,C.grn,2),line(cpuUser,C.yel,2),line(cpuTotal,C.red,4)
],w=>yScale("left",0,6,[0,2,4,6],["0%","2%","4%","6%"],w));
legend({l:72,r:1359,hy:928,clip:1068,band:[1000,1051.5],ry:[973,1025,1077],sw:76,lx:125,
  cols:[["min",1009,1024],["max",1109,1125],["avg",1208,1224],["current",1308,1355]],
  rows:[[C.red,"总使用率",["5.22%","5.74%","5.46%","5.48%"]],["#EAB839","用户使用率",["2.46%","2.78%","2.62%","2.64%"]],["#7EB26D","系统使用率",["1.25%","1.40%","1.33%","1.33%"]]]});

panel(1404,495,2746,1086,"内存信息",2076,528);
chart([1404,495,2746,1086],[1528,596,2608,851],[
  line(memAvail,"#7EB26D",2),line(memUsed,C.yel,2),dots(memTotal,C.red),
  line(memUsedPct,C.blue,4,"y2")
],w=>yScale("left",0,37.3,memYTicks,memYLabels,w),w=>yScale("right",0,100,memPctTicks,memPctLabels,w));
rotated(2714,737,"内存使用率",90);
legend({l:1432,r:2720,hy:928,clip:1068,band:[1000,1051.5],ry:[973,1025,1077],sw:1436,lx:1485,
  cols:[["min",2279,2295],["max",2420,2435],["avg",2559,2575],["current",2668,2715]],
  rows:[[C.red,"总内存",["31.22 GiB","31.22 GiB","31.22 GiB","31.22 GiB"]],["#7EB26D","可用",["19.94 GiB","20.09 GiB","20.01 GiB","19.99 GiB"]],["#EAB839","已用",["11.14 GiB","11.28 GiB","11.21 GiB","11.23 GiB"]]]});

panel(2767,495,4120,1086,"每秒网络带宽使用All",3438,528);
chart([2767,495,4102,1086],[2923,596,4060,851],[
  line(netOther,C.db,4),line(netIn,"#73A55C",2),line(netOut,C.or,2)
],w=>yScale("left",-2,2,netYTicks,netYLabels,w));
rotated(2799,745,"上传（-）/下载（+）",-90);
legend({l:2794,r:4082,hy:928,clip:1068,band:[1000,1051.5],ry:[973,1025,1077],sw:2798,lx:2845,
  cols:[["min",3604,3621],["max",3757,3773],["avg",3908,3925],["current",4030,4077]],
  rows:[["#73A55C","eno1_in下载",["1.06 Mb/s","1.24 Mb/s","1.16 Mb/s","1.22 Mb/s"]],[C.or,"eno1_out上传",["979.34 kb/s","1.89 Mb/s","1.10 Mb/s","1.12 Mb/s"]],[C.db,"lo_in下载",["14.00 kb/s","240.00 kb/s","155.31 kb/s","201.00 kb/s"]]]});

/* ---------- row 3 ---------- */
panel(45,1103,1387,1694,"系统平均负载",716,1135);
chart([45,1103,1387,1694],[103,1204,1337.5,1458.5],[
  dots(loadCores,C.red),line(load1,"#73A55C",2),line(load5,"#EAB839",3),line(load15,C.cyan,3)
],w=>yScale("left",0,40,loadYTicks,["0","10","20","30","40"],w));
legend({l:72,r:1359,hy:1537,clip:1676,band:[1608,1660],ry:[1581.5,1634,1686],sw:76,lx:125,
  cols:[["min",1045,1060],["max",1127,1143],["avg",1208,1224],["current",1308,1355]],
  rows:[[C.red,"CPU总核数",["32.0","32.0","32.0","32.0"]],[C.cyan,"15分钟负载",["1.0","1.4","1.2","1.2"]],["#73A55C","1分钟负载",["0.3","3.5","1.1","1.0"]]]});

panel(1404,1103,2746,1694,"进程运行状态",2076,1135);
const barX=i=>i+0.33;
chart([1404,1103,2746,1694],[1462.5,1204,2698,1477.5],[
  {type:"bar",data:procRunning.map((y,i)=>({x:barX(i),y})),backgroundColor:C.bars,barThickness:14,stack:"p"},
  {type:"bar",data:procBlocked.map((y,i)=>({x:barX(i),y})),backgroundColor:C.red2,barThickness:14,stack:"p"}
],w=>yScale("left",0,40,loadYTicks,["0","10","20","30","40"],w,{stacked:true}),null,"bar",{offset:false,stacked:true});
legend({l:1432,r:2720,hy:1553,clip:1680,band:[1625,1677],ry:[1598.5,1651],sw:1436,lx:1485,chev:false,
  cols:[["max",2491,2506],["avg",2599,2617],["current",2700,2716]],
  rows:[["#73BF69","运行态的进程",["37","18.8","12"]],[C.red2,"等待IO完成阻塞的进程",["1","0.0164","0"]]]});

panel(2767,1103,4120,1694,"磁盘使用率",3438,1135);
chart([2767,1103,4102,1694],[2842,1204,3989,1458.5],[
  line(inodeBoot,C.db,3,"y2"),line(inodeRoot,C.db,3,"y2"),line(diskBoot,"#EAB839",5),line(diskRoot,C.red2,5)
],w=>yScale("left",5,25,diskYTicks,diskYLabels,w),w=>yScale("right",0.1,0.6,diskY2Ticks,diskY2Labels,w));
legend({l:2794,r:4082,hy:1537,clip:1676,band:[1608,1660],ry:[1581.5,1634,1686],sw:2798,lx:2845,
  cols:[["min",3731,3747],["max",3831,3847],["avg",3930,3946],["current",4030,4077]],
  rows:[["#EAB839","容量%: /boot",["20.4%","20.4%","20.4%","20.4%"]],[C.red2,"容量%: /",["9.1%","9.1%","9.1%","9.1%"]],[C.db,"inode%: /boot (total)",["0.54%","0.54%","0.54%","0.54%"]]]});

/* ---------- row 4 ---------- */
panel(44,1711,1048,2300,"每秒磁盘读写容量",546,1744,64);
chart([44,1711,1048,2260],[228.6,1812,998,2067],[
  line(rateSdb,C.pu,2),line(rateSda,C.mg,2),line(rateDm0,C.dr,2),
  pairs(rateReadMin,rateRead,"#EF843C",3),line(rateZero,C.nb,4)
],w=>yScale("left",-500,1500,ioRateYTicks,ioRateYLabels,w));
rotated(77,1961,"读取（-）/写入（+）",-90);
legend({l:72,r:1020,hy:2144,clip:2260,band:[2216,2268],ry:[2190,2242],sw:76,lx:124,
  cols:[["max",667,682],["avg",833,850],["current",967,1015]],
  rows:[[C.dr,"dm-0_写入",["1.09 MB/s","661.99 kB/s","604.70 kB/s"]],[C.pu,"sdb_写入",["641.81 kB/s","379.53 kB/s","306.74 kB/s"]]]});

panel(1065,1711,2067,2300,"磁盘读写速率（IOPS）",1557,1744,64);
chart([1065,1711,2067,2260],[1177.6,1812,2017.6,2067],[
  line(iopsSdb,C.pu,2),line(iopsSda,C.mg,2),line(iopsDm0,C.dr,2),
  pairs(iopsReadMin,iopsRead,"#EF843C",3),line(iopsZero,C.nb,4)
],w=>yScale("left",-50,150,iopsYTicks,iopsYLabels,w));
rotated(1098,1953,"读取（-）/写入（+）I/O ops/sec",-90);
legend({l:1092,r:2040,hy:2144,clip:2260,band:[2216,2268],ry:[2190,2242],sw:1096,lx:1143,
  cols:[["max",1827,1842],["avg",1888,1904],["current",1987,2035]],
  rows:[[C.dr,"dm-0_写入",["141","84","70"]],[C.mg,"sda_写入",["130","71","60"]]]});

panel(2087,1711,3088,2300,"每次IO读写的耗时（参考：小于100ms）",2579,1744,64);
chart([2087,1711,3088,2260],[2247,1812,3038,2067],[
  pairs(latRead2Min,latRead2,"#73A55C",2),line(latRead,"#EF843C",2),line(latWrite2,C.dr,3),line(latWrite,"#705DA0",4)
],w=>yScale("left",-100,25,latYTicks,latYLabels,w));
rotated(2119,1961,"读取（-）/写入（+）",-90);
legend({l:2113,r:3060,hy:2144,clip:2260,band:[2216,2268],ry:[2190,2242],sw:2118,lx:2165,
  cols:[["max",2757,2772],["avg",2898,2915],["current",3009,3058]],
  rows:[[C.dr,"dm-0_写入",["977.23 μs","563.87 μs","536.85 μs"]],[C.pu,"sdb_写入",["1.01 ms","555.59 μs","395.78 μs"]]]});

panel(3106,1711,4120,2300,"每1秒内I/O操作耗时占比（I/O Util）",3598,1744,64);
chart([3106,1711,4102,2260],[3168,1812,4059,2067],[
  line(utilOther,"#EAB839",4),line(utilDm0,"#73A55C",2),line(utilSdb,"#C15CC1",2),line(utilSda,"#5BC3D6",2)
],w=>yScale("left",0,4,utilYTicks,utilYLabels,w));
legend({l:3132,r:4081,hy:2144,clip:2260,band:[2216,2268],ry:[2190,2242],sw:3138,lx:3185,
  cols:[["max",3817,3833],["avg",3930,3946],["current",4028,4077]],
  rows:[["#73A55C","dm-0_每秒I/O操作%",["3.11%","1.78%","1.66%"]],["#5BC3D6","sda_每秒I/O操作%",["1.32%","0.782%","0.963%"]]]});
</script></body></html>
